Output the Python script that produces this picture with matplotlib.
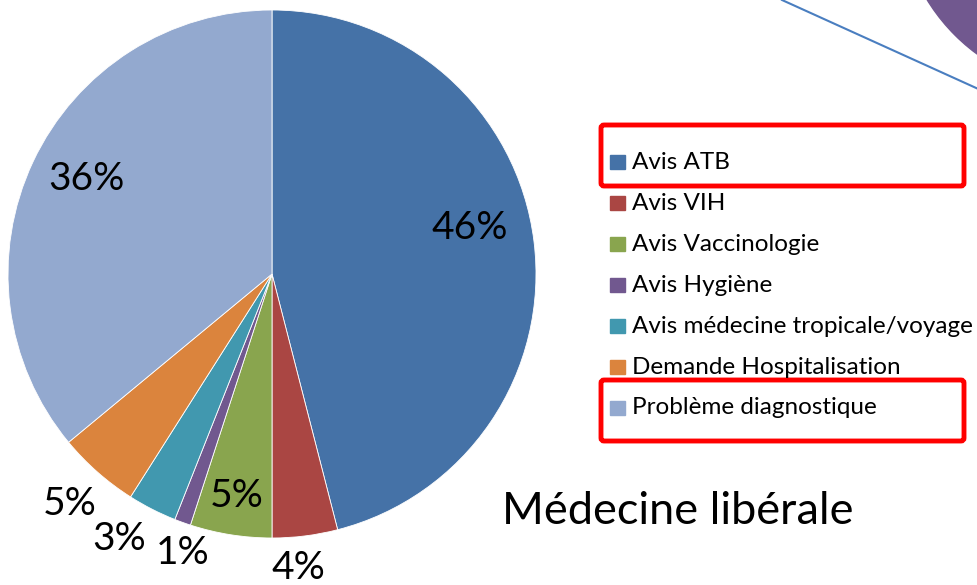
import matplotlib
matplotlib.use("Agg")
import numpy as np
import matplotlib.pyplot as plt
from matplotlib.patches import Rectangle, FancyBboxPatch, Circle

plt.rcParams['font.family'] = ['Lato', 'DejaVu Sans']

categories = ["Avis ATB", "Avis VIH", "Avis Vaccinologie", "Avis Hygiène",
              "Avis médecine tropicale/voyage", "Demande Hospitalisation",
              "Problème diagnostique"]
values = [46, 4, 5, 1, 3, 5, 36]
colors = ["#4572A7", "#AA4643", "#89A54E", "#71588F", "#4198AF", "#DB843D", "#93A9CF"]
title = "Médecine libérale"

# label placement (fraction of radius, angular offset in degrees)
lab_dist = [0.77, 1.12, 0.85, 1.11, 1.16, 1.16, 0.79]
lab_off = [6, -2, 0, 2, -3, 0, -2]

H = 585
fig = plt.figure(figsize=(9.78, 5.85), dpi=100)
ax = fig.add_axes([0, 0, 1, 1])

cx, cy, r = 272, H - 274, 264
wedges, _ = ax.pie(values, colors=colors, startangle=90, counterclock=False,
                   center=(cx, cy), radius=r,
                   wedgeprops=dict(edgecolor="white", linewidth=0.6))

for w, v, d, off in zip(wedges, values, lab_dist, lab_off):
    ang = np.deg2rad((w.theta1 + w.theta2) / 2 + off)
    ax.text(cx + r * d * np.cos(ang), cy + r * d * np.sin(ang), f"{v}%",
            ha="center", va="center", fontsize=28, color="black")

# legend
for i, (lab, c) in enumerate(zip(categories, colors)):
    y = H - (162 + 41 * i)
    ax.add_patch(Rectangle((610, y - 7), 15, 14, color=c))
    ax.text(632, y, lab, ha="left", va="center", fontsize=17.5, color="black")

# red highlight boxes
for top in (125, 380):
    ax.add_patch(FancyBboxPatch((601, H - top - 61), 363, 61,
                                boxstyle="round,pad=0,rounding_size=3",
                                fill=False, edgecolor="#FF0000", linewidth=3.5))

ax.text(502, H - 512, title, ha="left", va="center", fontsize=32.5, color="black")

# fragments of the neighbouring chart (top right)
ax.add_patch(Circle((1090, H + 100), 191, color="#71588F", clip_on=True))
ax.plot([782, 985], [H - 0, H - 92], color="#4A7EC0", linewidth=1.5)

ax.set_xlim(0, 978)
ax.set_ylim(0, H)
ax.axis("off")

fig.savefig("out.png", dpi=100)
